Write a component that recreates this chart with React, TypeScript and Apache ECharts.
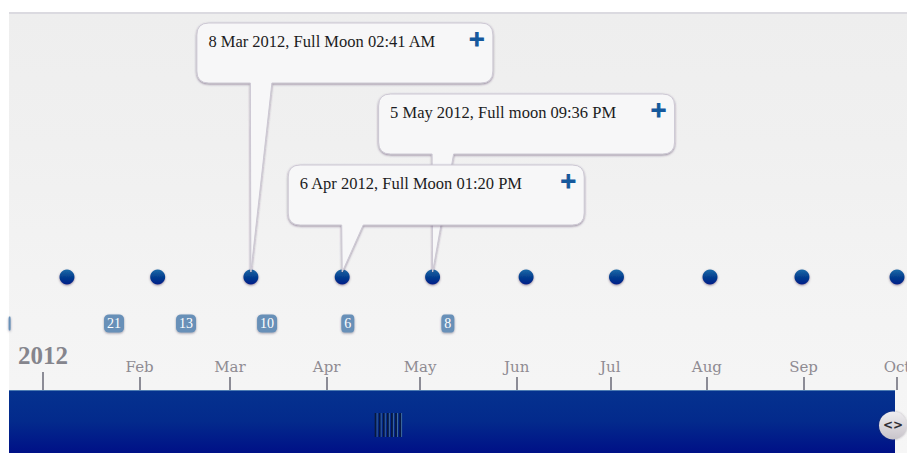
import React, { useEffect, useRef } from "react";
import * as echarts from "echarts";

// Days counted from 1 Jan 2012
const monthLabels = ["Feb", "Mar", "Apr", "May", "Jun", "Jul", "Aug", "Sep", "Oct"];
const monthStarts = [31, 60, 91, 121, 152, 182, 213, 244, 274];
const yearLabel = "2012";
const yearStart = 0;
const fullMoonDays = [7.7, 36.8, 66.7, 96, 125, 155, 184, 214, 243.5, 274];
const badgeDays = [-10.7, 22.8, 45.9, 71.9, 97.8, 129.9];
const badgeCounts = ["", "21", "13", "10", "6", "8"];
const calloutDays = [66.7, 125, 96];
const calloutTexts = [
  "8 Mar 2012, Full Moon 02:41 AM",
  "5 May 2012, Full moon 09:36 PM",
  "6 Apr 2012, Full Moon 01:20 PM",
];
const calloutRises = [189, 118, 47];

const SERIF = '"Liberation Serif", serif';
const AXIS_MIN = -10.9;
const AXIS_MAX = 277.2;
const DOT_LANE = 113;
const BADGE_LANE = 66.5;

echarts.graphic.registerShape(
  "callout",
  echarts.graphic.extendShape({
    shape: { x: 0, y: 0, w: 0, h: 0, r: 0, tl: 0, tr: 0, tx: 0, ty: 0 },
    buildPath(ctx: any, s: any) {
      const { x, y, w, h, r, tl, tr, tx, ty } = s;
      ctx.moveTo(x + r, y);
      ctx.lineTo(x + w - r, y);
      ctx.quadraticCurveTo(x + w, y, x + w, y + r);
      ctx.lineTo(x + w, y + h - r);
      ctx.quadraticCurveTo(x + w, y + h, x + w - r, y + h);
      ctx.lineTo(tr, y + h);
      ctx.lineTo(tx, ty);
      ctx.lineTo(tl, y + h);
      ctx.lineTo(x + r, y + h);
      ctx.quadraticCurveTo(x, y + h, x, y + h - r);
      ctx.lineTo(x, y + r);
      ctx.quadraticCurveTo(x, y, x + r, y);
      ctx.closePath();
    },
  }) as any
);

const grip = [0, 1, 2, 3, 4, 5, 6];

function buildOption(): any {
  const grid = { left: 9, right: 0, top: 13, height: 377, containLabel: false, outerBoundsMode: "none" };
  const dotGradient = {
    type: "linear", x: 0, y: 0, x2: 0, y2: 1,
    colorStops: [
      { offset: 0, color: "#1a6aa8" },
      { offset: 0.5, color: "#05408f" },
      { offset: 1, color: "#001c88" },
    ],
  };
  return {
    animation: false,
    backgroundColor: "#ffffff",
    grid: [grid, grid],
    xAxis: [
      {
        type: "value", gridIndex: 0, min: AXIS_MIN, max: AXIS_MAX, z: 5,
        splitLine: { show: false },
        axisLine: { show: false },
        axisTick: { show: true, inside: true, length: 13, customValues: monthStarts, lineStyle: { color: "#8c8c96", width: 2 } },
        axisLabel: {
          show: true, inside: true, margin: 16, customValues: monthStarts, hideOverlap: false,
          fontFamily: '"DejaVu Serif", serif', fontSize: 15, color: "#8f8b92",
          formatter: (v: number) => monthLabels[monthStarts.indexOf(v)] ?? "",
        },
      },
      {
        type: "value", gridIndex: 1, min: AXIS_MIN, max: AXIS_MAX, z: 5,
        splitLine: { show: false },
        axisLine: { show: false },
        axisTick: { show: true, inside: true, length: 18, customValues: [yearStart], lineStyle: { color: "#8c8c96", width: 2 } },
        axisLabel: {
          show: true, inside: true, margin: 22, customValues: [yearStart], hideOverlap: false,
          fontFamily: SERIF, fontSize: 25, fontWeight: "bold", color: "#85858d",
          formatter: () => yearLabel,
        },
      },
    ],
    yAxis: [
      { type: "value", gridIndex: 0, min: 0, max: 377, show: false },
      { type: "value", gridIndex: 1, min: 0, max: 377, show: false },
    ],
    graphic: [
      {
        type: "rect", z: -10, silent: true,
        shape: { x: 9, y: 13, width: 898, height: 440 },
        style: {
          fill: {
            type: "linear", x: 0, y: 0, x2: 0, y2: 1,
            colorStops: [
              { offset: 0, color: "#eeeeee" },
              { offset: 0.3, color: "#f0f0f0" },
              { offset: 0.7, color: "#f4f4f4" },
              { offset: 1, color: "#f6f6f6" },
            ],
          },
        },
      },
      { type: "rect", z: -9, silent: true, shape: { x: 9, y: 12, width: 898, height: 2 }, style: { fill: "#dbdae0" } },
      {
        type: "rect", z: 1, silent: true,
        shape: { x: 9, y: 390, width: 886, height: 63 },
        style: {
          fill: {
            type: "linear", x: 0, y: 0, x2: 0, y2: 1,
            colorStops: [
              { offset: 0, color: "#05328f" },
              { offset: 0.5, color: "#032a8c" },
              { offset: 1, color: "#001087" },
            ],
          },
        },
      },
      { type: "rect", z: 2, silent: true, shape: { x: 9, y: 390, width: 886, height: 1 }, style: { fill: "#4d7cb2" } },
      ...grip.map((i) => ({
        type: "line", z: 3, silent: true,
        shape: { x1: 377 + i * 4.1, y1: 413, x2: 377 + i * 4.1, y2: 437 },
        style: { stroke: "#3f6c9c", lineWidth: 1 },
      })),
      ...grip.map((i) => ({
        type: "line", z: 3, silent: true,
        shape: { x1: 375.5 + i * 4.1, y1: 413, x2: 375.5 + i * 4.1, y2: 437 },
        style: { stroke: "#08183e", lineWidth: 1.6 },
      })),
      {
        type: "circle", z: 20, silent: true,
        shape: { cx: 893, cy: 425.5, r: 14 },
        style: {
          fill: {
            type: "linear", x: 0, y: 0, x2: 0, y2: 1,
            colorStops: [
              { offset: 0, color: "#efedf0" },
              { offset: 1, color: "#c8c4ca" },
            ],
          },
          shadowBlur: 2, shadowColor: "rgba(70,60,80,0.45)",
        },
      },
      {
        type: "text", z: 21, silent: true, x: 893, y: 425,
        style: { text: "<>", fill: "#2e2e34", font: 'bold 12px "DejaVu Sans", sans-serif', textAlign: "center", textVerticalAlign: "middle" },
      },
    ],
    series: [
      {
        type: "scatter", xAxisIndex: 0, yAxisIndex: 0, z: 3,
        data: fullMoonDays.map((d) => [d, DOT_LANE]),
        symbol: "circle", symbolSize: 15, clip: false,
        itemStyle: { color: dotGradient, shadowBlur: 2, shadowOffsetY: 1, shadowColor: "rgba(80,60,90,0.55)", opacity: 1 },
      },
      {
        type: "scatter", xAxisIndex: 0, yAxisIndex: 0, z: 3,
        data: badgeDays.map((d, i) => ({ value: [d, BADGE_LANE], name: badgeCounts[i] })),
        symbol: "roundRect", clip: false,
        symbolSize: (_: any, p: any) => {
          const n = badgeCounts[p.dataIndex].length;
          return n === 0 ? [2, 14] : n === 1 ? [13, 18] : [20, 18];
        },
        itemStyle: { color: "#6790b8", shadowBlur: 2, shadowOffsetY: 1, shadowColor: "rgba(80,70,100,0.5)", opacity: 1 },
        label: {
          show: true, position: "inside", color: "#ffffff", fontFamily: SERIF, fontSize: 14,
          formatter: (p: any) => p.name,
        },
      },
      {
        type: "custom", xAxisIndex: 0, yAxisIndex: 0, z: 6, clip: false,
        data: calloutDays.map((d) => [d, DOT_LANE]),
        renderItem: (params: any, api: any) => {
          const i = params.dataIndex;
          const [px, py] = api.coord([api.value(0), api.value(1)]);
          const tipY = py - 5;
          const y = tipY - calloutRises[i] - 60 + 0;
          const x = px - 54;
          return {
            type: "group",
            children: [
              {
                type: "callout",
                shape: { x, y, w: 296, h: 60, r: 12, tl: px - 0.5, tr: px + 21, tx: px, ty: tipY },
                style: {
                  fill: "#f7f7f8", stroke: "#cdc8d4", lineWidth: 1,
                  shadowBlur: 2, shadowOffsetY: 1, shadowColor: "rgba(70,50,90,0.55)",
                },
              },
              {
                type: "text", x: x + 11.5, y: y + 18,
                style: { text: calloutTexts[i], fill: "#1c1c22", font: `16.5px ${SERIF}`, textVerticalAlign: "middle" },
              },
              {
                type: "text", x: x + 280, y: y + 16,
                style: { text: "+", fill: "#15589c", stroke: "#15589c", lineWidth: 1, font: 'bold 21px "DejaVu Sans", sans-serif', textAlign: "center", textVerticalAlign: "middle" },
              },
            ],
          };
        },
      },
    ],
  };
}

export default function App() {
  const ref = useRef<HTMLDivElement>(null);
  useEffect(() => {
    const chart = echarts.init(ref.current!, undefined, { renderer: "svg" });
    chart.setOption(buildOption());
    return () => chart.dispose();
  }, []);
  return <div ref={ref} style={{ position: "absolute", left: 0, top: 0, width: 907, height: 453 }} />;
}
